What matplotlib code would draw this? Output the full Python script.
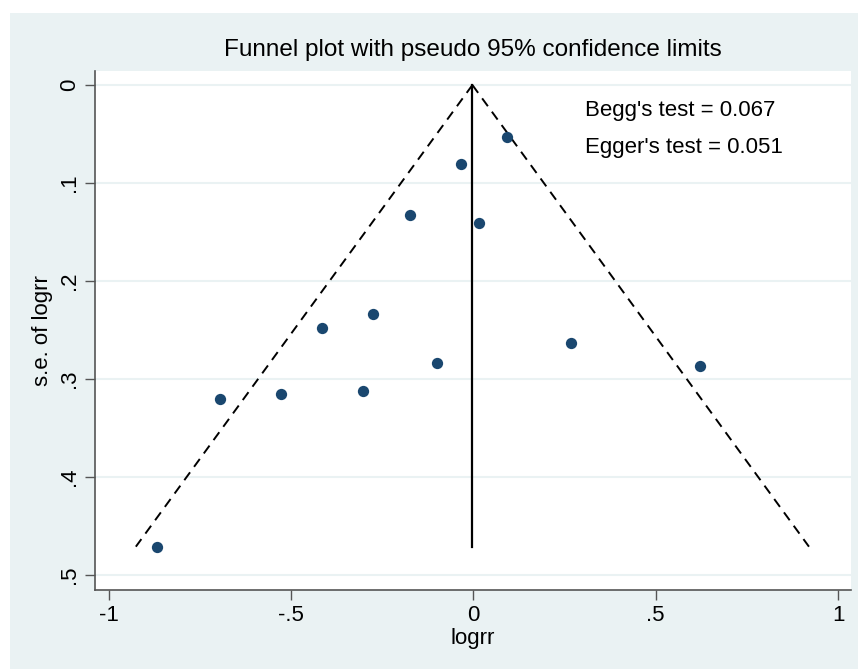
import matplotlib
matplotlib.use("Agg")
import matplotlib.pyplot as plt
import numpy as np
from matplotlib.patches import Rectangle

# Data
logrr = [0.091, -0.034, -0.174, 0.015, -0.277, -0.416, 0.267, -0.099, 0.622, -0.695, -0.528, -0.304, -0.868]
se_logrr = [0.0534, 0.0803, 0.1323, 0.1411, 0.234, 0.2477, 0.2636, 0.2834, 0.2867, 0.3207, 0.3156, 0.3119, 0.4711]
pooled = -0.003
se_max = 0.4711
xticks = [-1, -0.5, 0, 0.5, 1]
xticklabels = ["-1", "-.5", "0", ".5", "1"]
yticks = [0, 0.1, 0.2, 0.3, 0.4, 0.5]
yticklabels = ["0", ".1", ".2", ".3", ".4", ".5"]
title = "Funnel plot with pseudo 95% confidence limits"
annot = ["Begg's test = 0.067", "Egger's test = 0.051"]

plt.rcParams['font.family'] = ['Liberation Sans', 'DejaVu Sans']

W, H = 858, 669
fig = plt.figure(figsize=(W/100, H/100), dpi=100, facecolor="white")
bg = "#EAF2F3"
fig.patches.append(Rectangle((10/W, 0), 1 - 10/W, (H-13)/H, transform=fig.transFigure,
                             facecolor=bg, edgecolor="none", zorder=-10))

ax = fig.add_axes([95/W, 1 - 590/H, (851-95)/W, (590-71)/H])
ax.set_facecolor("white")
ax.set_xlim(-1 + (95-109)/364.5, 1 + (851-838)/364.5)
ax.set_ylim((590-85)/980, (71-85)/980)

for yv in yticks:
    ax.axhline(yv, color=bg, lw=1.5, zorder=0)

# funnel lines
ys = np.array([0, se_max])
ax.plot(pooled - 1.96*ys, ys, color="black", lw=1.4, ls=(0, (5, 3.5)), zorder=2)
ax.plot(pooled + 1.96*ys, ys, color="black", lw=1.4, ls=(0, (5, 3.5)), zorder=2)
ax.plot([pooled, pooled], [0, se_max], color="black", lw=1.6, zorder=2)

ax.scatter(logrr, se_logrr, s=66, color="#1a476f", zorder=3, linewidths=0)

fs = 16
ax.set_xticks(xticks)
ax.set_xticklabels(xticklabels, fontsize=fs)
ax.set_yticks(yticks)
ax.set_yticklabels(yticklabels, fontsize=fs, rotation=90, va="center")
ax.tick_params(direction="out", length=7, width=1, color="#555555", pad=4)
for s in ["top", "right"]:
    ax.spines[s].set_visible(False)
for s in ["left", "bottom"]:
    ax.spines[s].set_color("#555555")
    ax.spines[s].set_linewidth(1.2)

ax.set_xlabel("logrr", fontsize=fs, labelpad=1)
ax.set_ylabel("s.e. of logrr", fontsize=fs, labelpad=4)
ax.set_title(title, fontsize=17.5, pad=11)

ax.text(0.306, 0.0265, annot[0], fontsize=fs, va="center", ha="left")
ax.text(0.306, 0.064, annot[1], fontsize=fs, va="center", ha="left")

fig.savefig("out.png", dpi=100, facecolor=fig.get_facecolor())
